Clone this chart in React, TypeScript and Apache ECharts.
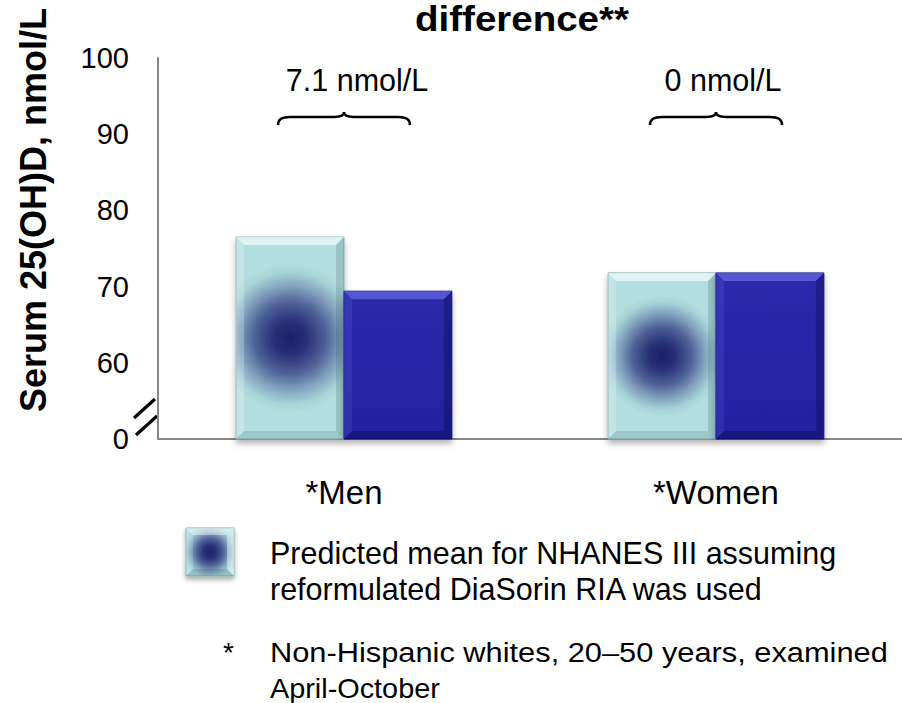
import React, { useEffect, useRef } from "react";
import * as echarts from "echarts";

const categories = ["*Men", "*Women"];
const predictedMean = [76.5, 71.8];
const measuredMean = [69.4, 71.8];
const differenceLabels = ["7.1 nmol/L", "0 nmol/L"];
const yMin = 50; // drawn as "0" (broken axis)
const yMax = 100;
const yStep = 10;

const FONT = '"Liberation Sans", Arial, sans-serif';

echarts.graphic.registerShape(
  "brace",
  echarts.graphic.extendPath(
    "M0,13 C0,7 4,5 12,5 L56,5 C62,5 66,4 66,0 C66,4 70,5 76,5 L120,5 C128,5 132,7 132,13",
    {}
  )
);

const BLOB_STOPS = [
  { offset: 0, color: "#1D1F66" },
  { offset: 0.22, color: "#283075" },
  { offset: 0.48, color: "#4E6298" },
  { offset: 0.7, color: "#84A4BF" },
  { offset: 0.88, color: "#A8D3D8" },
  { offset: 1, color: "#B2DEDF" },
];

const blobGlobal = (x: number, y: number, w: number, h: number) =>
  new echarts.graphic.RadialGradient(
    x + w / 2,
    y + h / 2,
    Math.max(44, Math.min(0.37 * h, 0.7 * w)),
    BLOB_STOPS,
    true
  );

type BevelColors = { top: string; left: string; right: string; bottom: string };

const PRED_BEVEL: BevelColors = {
  top: "rgba(255,255,255,0.6)",
  left: "rgba(255,255,255,0.22)",
  right: "rgba(0,40,60,0.14)",
  bottom: "rgba(0,40,60,0.12)",
};
const MEAS_BEVEL: BevelColors = {
  top: "rgba(130,130,255,0.5)",
  left: "rgba(120,120,255,0.16)",
  right: "rgba(0,0,50,0.28)",
  bottom: "rgba(0,0,50,0.3)",
};

function bevelParts(x: number, y: number, w: number, h: number, b: number, c: BevelColors) {
  return [
    { type: "polygon", shape: { points: [[x, y], [x + w, y], [x + w - b, y + b], [x + b, y + b]] }, style: { fill: c.top } },
    { type: "polygon", shape: { points: [[x, y], [x + b, y + b], [x + b, y + h - b], [x, y + h]] }, style: { fill: c.left } },
    { type: "polygon", shape: { points: [[x + w, y], [x + w, y + h], [x + w - b, y + h - b], [x + w - b, y + b]] }, style: { fill: c.right } },
    { type: "polygon", shape: { points: [[x, y + h], [x + b, y + h - b], [x + w - b, y + h - b], [x + w, y + h]] }, style: { fill: c.bottom } },
  ];
}

function makeRenderItem(
  side: number,
  fill: (x: number, y: number, w: number, h: number) => any,
  stroke: string,
  bev: BevelColors
) {
  return (params: any, api: any) => {
    const idx = api.value(0);
    const val = api.value(1);
    const top = api.coord([idx, val]);
    const base = api.coord([idx, yMin]);
    const band = api.size([1, 0])[0];
    const w = band * 0.29;
    const x = side < 0 ? top[0] - w : top[0];
    const y = top[1];
    const h = base[1] - top[1];
    return {
      type: "group",
      children: [
        {
          type: "rect",
          shape: { x, y, width: w, height: h },
          style: {
            fill: fill(x, y, w, h),
            stroke,
            lineWidth: 1,
            shadowBlur: 6,
            shadowOffsetY: 4,
            shadowColor: "rgba(0,0,0,0.3)",
          },
        },
        ...bevelParts(x, y, w, h, 8, bev),
      ],
    };
  };
}

export default function App() {
  const ref = useRef<HTMLDivElement>(null);
  useEffect(() => {
    if (!ref.current) return;
    const chart = echarts.init(ref.current, undefined, { renderer: "svg" });
    chart.setOption({
      animation: false,
      grid: { left: 158, right: 0, top: 58, bottom: 264, containLabel: false },
      xAxis: {
        type: "category",
        data: categories,
        axisLine: { lineStyle: { color: "#868686", width: 2 } },
        axisTick: { show: false },
        axisLabel: { fontSize: 33, margin: 37, color: "#000", fontFamily: FONT },
      },
      yAxis: {
        type: "value",
        min: yMin,
        max: yMax,
        interval: yStep,
        axisLine: { show: true, lineStyle: { color: "#868686", width: 2 } },
        axisTick: { show: false },
        splitLine: { show: false },
        axisLabel: {
          fontSize: 29,
          margin: 29,
          color: "#000",
          fontFamily: FONT,
          formatter: (v: number) => (v === yMin ? "0" : String(v)),
        },
      },
      series: [
        {
          name: "Predicted",
          type: "custom",
          data: predictedMean.map((v, i) => [i, v]),
          encode: { x: 0, y: 1 },
          renderItem: makeRenderItem(-1, blobGlobal, "#8BB2B5", PRED_BEVEL),
        },
        {
          name: "Measured",
          type: "custom",
          data: measuredMean.map((v, i) => [i, v]),
          encode: { x: 0, y: 1 },
          renderItem: makeRenderItem(
            1,
            () =>
              new echarts.graphic.LinearGradient(0, 0, 0, 1, [
                { offset: 0, color: "#2A2AAB" },
                { offset: 1, color: "#2323A0" },
              ]),
            "#1C1C88",
            MEAS_BEVEL
          ),
        },
      ],
    });

    const centers = categories.map(
      (c) => chart.convertToPixel({ xAxisIndex: 0 }, c) as number
    );
    const textOffsets = [13, 7];
    const graphics: any[] = [
      {
        type: "text",
        x: 522,
        y: 19,
        scaleX: 1.1,
        style: {
          text: "difference**",
          font: `bold 35px ${FONT}`,
          fill: "#000",
          align: "center",
          verticalAlign: "middle",
          textAlign: "center",
          textVerticalAlign: "middle",
        },
      },
      {
        type: "text",
        x: 33,
        y: 210,
        rotation: Math.PI / 2,
        style: {
          text: "Serum 25(OH)D, nmol/L",
          font: `bold 36px ${FONT}`,
          fill: "#000",
          align: "center",
          verticalAlign: "middle",
          textAlign: "center",
          textVerticalAlign: "middle",
        },
      },
      { type: "line", shape: { x1: 134, y1: 418, x2: 155, y2: 399 }, style: { stroke: "#000", lineWidth: 3.2 } },
      { type: "line", shape: { x1: 136, y1: 435, x2: 157, y2: 416 }, style: { stroke: "#000", lineWidth: 3.2 } },
      {
        type: "group",
        children: [
          {
            type: "rect",
            shape: { x: 186, y: 528, width: 48, height: 48 },
            style: {
              fill: new echarts.graphic.RadialGradient(210, 552, 28, BLOB_STOPS, true),
              stroke: "#8BB2B5",
              lineWidth: 1,
              shadowBlur: 5,
              shadowOffsetY: 3,
              shadowColor: "rgba(0,0,0,0.35)",
            },
          },
          ...bevelParts(186, 528, 48, 48, 7, {
            top: "rgba(255,255,255,0.45)",
            left: "rgba(255,255,255,0.15)",
            right: "rgba(255,255,255,0.4)",
            bottom: "rgba(0,40,60,0.15)",
          }),
        ],
      },
      {
        type: "text",
        x: 270,
        y: 553,
        style: {
          text: "Predicted mean for NHANES III assuming",
          font: `30.5px ${FONT}`,
          fill: "#000",
          verticalAlign: "middle",
          textVerticalAlign: "middle",
        },
      },
      {
        type: "text",
        x: 270,
        y: 589,
        style: {
          text: "reformulated DiaSorin RIA was used",
          font: `30.5px ${FONT}`,
          fill: "#000",
          verticalAlign: "middle",
          textVerticalAlign: "middle",
        },
      },
      {
        type: "text",
        x: 223,
        y: 652,
        style: { text: "*", font: `28px ${FONT}`, fill: "#000", verticalAlign: "middle", textVerticalAlign: "middle" },
      },
      {
        type: "text",
        x: 270,
        y: 652,
        scaleX: 1.1,
        style: {
          text: "Non-Hispanic whites, 20\u201350 years, examined",
          font: `28px ${FONT}`,
          fill: "#000",
          verticalAlign: "middle",
          textVerticalAlign: "middle",
        },
      },
      {
        type: "text",
        x: 270,
        y: 688,
        scaleX: 1.03,
        style: {
          text: "April-October",
          font: `28px ${FONT}`,
          fill: "#000",
          verticalAlign: "middle",
          textVerticalAlign: "middle",
        },
      },
    ];
    centers.forEach((cx, i) => {
      graphics.push({
        type: "brace",
        x: cx - 66,
        y: 112,
        style: { fill: "none", stroke: "#000", lineWidth: 2.5 },
      });
      graphics.push({
        type: "text",
        x: cx + textOffsets[i],
        y: 80,
        style: {
          text: differenceLabels[i],
          font: `30.5px ${FONT}`,
          fill: "#000",
          align: "center",
          verticalAlign: "middle",
          textAlign: "center",
          textVerticalAlign: "middle",
        },
      });
    });
    chart.setOption({ graphic: graphics });
    return () => chart.dispose();
  }, []);
  return (
    <div
      ref={ref}
      style={{ position: "absolute", left: 0, top: 0, width: 902, height: 703, background: "#fff" }}
    />
  );
}
